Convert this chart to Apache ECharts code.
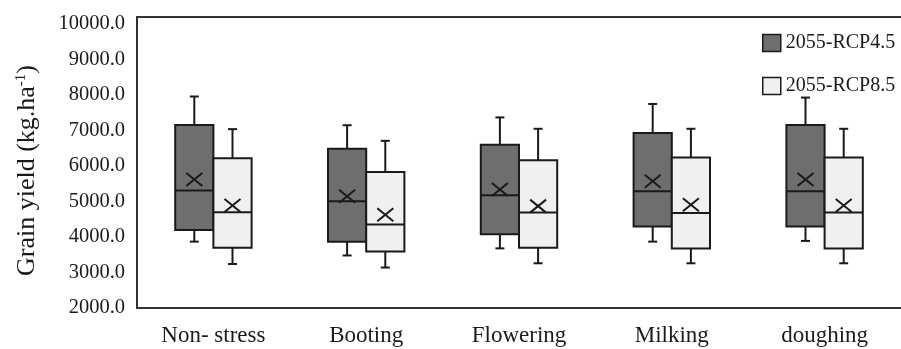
<!DOCTYPE html>
<html><head><meta charset="utf-8">
<script src="https://cdn.jsdelivr.net/npm/echarts@6/dist/echarts.min.js"></script>
<style>html,body{margin:0;padding:0;background:#fff}#c{width:901px;height:349px}</style>
</head><body><div id="c"></div>
<script>
const categories = ['Non- stress', 'Booting', 'Flowering', 'Milking', 'doughing'];
const seriesNames = ['2055-RCP4.5', '2055-RCP8.5'];
// [min, Q1, median, Q3, max]
const rcp45Box = [
  [3870, 4200, 5310, 7160, 7960],
  [3480, 3870, 5010, 6490, 7150],
  [3680, 4080, 5180, 6600, 7370],
  [3870, 4300, 5290, 6930, 7750],
  [3890, 4300, 5290, 7160, 7930]
];
const rcp45Mean = [5620, 5150, 5340, 5570, 5620];
const rcp85Box = [
  [3240, 3700, 4700, 6220, 7040],
  [3140, 3590, 4350, 5830, 6710],
  [3260, 3700, 4690, 6160, 7050],
  [3260, 3680, 4680, 6240, 7050],
  [3260, 3680, 4690, 6240, 7050]
];
const rcp85Mean = [4890, 4630, 4870, 4910, 4890];
const yMin = 2000, yMaxTick = 10000, yStep = 1000;

const FONT = 'Liberation Serif';
const INK = '#1a1a1a';

function rows(box, mean) {
  return box.map((b, i) => [i].concat(b, [mean[i]]));
}

function boxRender(side, fill) {
  return function (params, api) {
    const i = api.value(0);
    const band = api.size([1, 0])[0];
    const bw = band * 0.25;
    const med = api.coord([i, api.value(3)]);
    const x0 = med[0] + (side < 0 ? -bw : 0);
    const xm = x0 + bw / 2;
    const y = k => api.coord([i, api.value(k)])[1];
    const yLo = y(1), yQ1 = y(2), yMed = med[1], yQ3 = y(4), yHi = y(5), yMean = y(6);
    const cap = 4.5, mx = 8, my = 6.5;
    const ls = { stroke: INK, lineWidth: 2 };
    return {
      type: 'group', children: [
        { type: 'line', shape: { x1: xm, y1: yHi, x2: xm, y2: yQ3 }, style: ls },
        { type: 'line', shape: { x1: xm - cap, y1: yHi, x2: xm + cap, y2: yHi }, style: ls },
        { type: 'line', shape: { x1: xm, y1: yQ1, x2: xm, y2: yLo }, style: ls },
        { type: 'line', shape: { x1: xm - cap, y1: yLo, x2: xm + cap, y2: yLo }, style: ls },
        { type: 'rect', shape: { x: x0, y: yQ3, width: bw, height: yQ1 - yQ3 }, style: { fill: fill, stroke: INK, lineWidth: 2 } },
        { type: 'line', shape: { x1: x0, y1: yMed, x2: x0 + bw, y2: yMed }, style: ls },
        { type: 'line', shape: { x1: xm - mx, y1: yMean - my, x2: xm + mx, y2: yMean + my }, style: ls },
        { type: 'line', shape: { x1: xm - mx, y1: yMean + my, x2: xm + mx, y2: yMean - my }, style: ls }
      ]
    };
  };
}

const chart = echarts.init(document.getElementById('c'), null, { renderer: 'canvas' });
chart.setOption({
  animation: false,
  backgroundColor: '#fff',
  textStyle: { fontFamily: FONT },
  grid: { left: 137, right: 0, top: 17, bottom: 41 },
  legend: {
    orient: 'vertical', left: 757, top: 28,
    itemWidth: 18, itemHeight: 17, itemGap: 23,
    textStyle: { fontFamily: FONT, fontSize: 20, color: INK },
    data: [
      { name: seriesNames[0], icon: 'rect', itemStyle: { color: '#6e6e6e', borderColor: INK, borderWidth: 1.5 } },
      { name: seriesNames[1], icon: 'rect', itemStyle: { color: '#f0f0f0', borderColor: INK, borderWidth: 1.5 } }
    ]
  },
  xAxis: [{
    type: 'category', data: categories, position: 'bottom',
    axisLine: { lineStyle: { color: '#333', width: 2 } },
    axisTick: { show: false },
    axisLabel: { fontFamily: FONT, fontSize: 23, color: INK, margin: 16 }
  }, {
    type: 'category', data: categories, position: 'top',
    axisLine: { lineStyle: { color: '#333', width: 2 } },
    axisTick: { show: false }, axisLabel: { show: false }
  }],
  yAxis: {
    type: 'value', min: yMin, max: yMaxTick + 200, interval: yStep,
    axisLine: { show: true, lineStyle: { color: '#333', width: 2 } },
    axisTick: { show: false },
    splitLine: { show: false },
    axisLabel: {
      fontFamily: FONT, fontSize: 20.5, color: INK, margin: 12,
      formatter: v => (v % yStep === 0 && v <= yMaxTick) ? v.toFixed(1) : ''
    },
    name: '{a|Grain yield (kg.ha}{s|-1}{a|)}',
    nameLocation: 'middle', nameGap: 97, nameRotate: 90,
    nameTextStyle: {
      padding: [0, 16, 0, 0],
      rich: {
        a: { fontFamily: FONT, fontSize: 26, color: INK },
        s: { fontFamily: FONT, fontSize: 15, color: INK, verticalAlign: 'top', padding: [0, 0, 9, 0] }
      }
    }
  },
  series: [{
    name: seriesNames[0], type: 'custom',
    itemStyle: { color: '#6e6e6e', borderColor: INK },
    renderItem: boxRender(-1, '#6e6e6e'),
    encode: { x: 0, y: [1, 2, 3, 4, 5, 6] },
    data: rows(rcp45Box, rcp45Mean)
  }, {
    name: seriesNames[1], type: 'custom',
    itemStyle: { color: '#f0f0f0', borderColor: INK },
    renderItem: boxRender(1, '#f0f0f0'),
    encode: { x: 0, y: [1, 2, 3, 4, 5, 6] },
    data: rows(rcp85Box, rcp85Mean)
  }]
});
</script></body></html>
